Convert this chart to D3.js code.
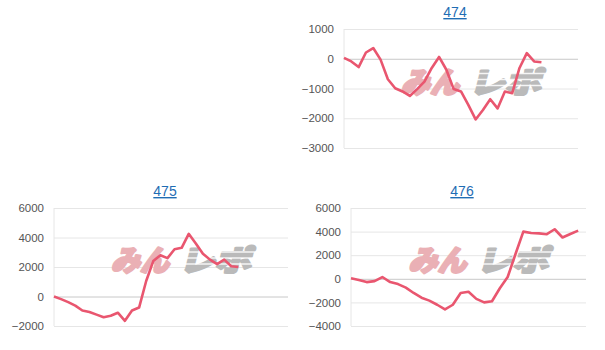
<!DOCTYPE html>
<html>
<head>
<meta charset="utf-8">
<script src="https://cdn.jsdelivr.net/npm/d3@7"></script>
<style>
  body { margin: 0; background: #fff; }
  svg { display: block; font-family: "Liberation Sans", Arial, Helvetica, sans-serif; }
</style>
</head>
<body>
<svg width="605" height="350"></svg>
<script>
// machine numbers (titles)
var titles = ["474", "475", "476"];

// cumulative difference per game count
var values474 = [30, -90, -280, 210, 360, -30, -690, -990, -1100, -1250, -1020, -770, -310, 60,
  -370, -1020, -1100, -1550, -2040, -1720, -1360, -1670, -1100, -1160, -310, 190, -90, -120];
var values475 = [0, -180, -380, -620, -950, -1050, -1230, -1400, -1300, -1100, -1650, -950, -750,
  1050, 2400, 2800, 2600, 3200, 3300, 4250, 3600, 2900, 2500, 2200, 2500, 2050, 2000];
var values476 = [50, -100, -280, -200, 150, -280, -450, -750, -1200, -1600, -1850, -2200, -2600,
  -2200, -1200, -1100, -1700, -2000, -1900, -800, 150, 2100, 4000, 3880, 3850, 3780, 4200,
  3500, 3800, 4080];

// y tick labels
var ticks474 = [1000, 0, -1000, -2000, -3000];
var ticks475 = [6000, 4000, 2000, 0, -2000];
var ticks476 = [6000, 4000, 2000, 0, -2000, -4000];

var svg = d3.select("svg");

function drawChart(title, values, ticks, box) {
  var g = svg.append("g");

  var x = d3.scaleLinear()
      .domain([0, box.slots])
      .range([box.left, box.right]);

  var y = d3.scaleLinear()
      .domain([d3.min(ticks), d3.max(ticks)])
      .range([box.bottom, box.top]);

  // title link
  g.append("text")
      .attr("x", box.titleX)
      .attr("y", box.top - 12)
      .attr("text-anchor", "middle")
      .attr("fill", "#1f6db4")
      .attr("text-decoration", "underline")
      .style("font-size", "14px")
      .text(title);

  // grid lines
  var yAxis = d3.axisLeft(y)
      .tickValues(ticks)
      .tickSize(-(box.right - box.left))
      .tickPadding(10)
      .tickFormat(d3.format("d"));

  var ax = g.append("g")
      .attr("transform", "translate(" + box.left + ",0)")
      .call(yAxis);

  ax.select(".domain").remove();
  ax.selectAll(".tick line")
      .attr("stroke", function(d) { return d == 0 ? "#c8c8c8" : "#e6e6e6"; })
      .attr("stroke-width", 1);
  ax.selectAll(".tick text")
      .attr("fill", "#555")
      .style("font-size", "11.5px")
      .style("font-family", "'Liberation Sans', Arial, sans-serif");

  // left axis line
  g.append("line")
      .attr("x1", box.left).attr("x2", box.left)
      .attr("y1", box.top).attr("y2", box.bottom)
      .attr("stroke", "#e6e6e6");

  // watermark
  var cx = (box.left + box.right) / 2 + 9,
      cy = (box.top + box.bottom) / 2 - 8;
  var wm = g.append("g")
      .attr("transform", "translate(" + cx + "," + cy + ") skewX(-14)")
      .style("font-family", "'Noto Sans CJK JP', sans-serif")
      .style("font-weight", 900)
      .style("font-size", "29px");
  wm.append("text")
      .attr("x", -66).attr("y", 12)
      .attr("textLength", 58)
      .attr("lengthAdjust", "spacingAndGlyphs")
      .attr("fill", "#eab0b5")
      .attr("stroke", "#eab0b5")
      .attr("stroke-width", 2.4)
      .attr("stroke-linejoin", "round")
      .text("みん");
  wm.append("text")
      .attr("x", 2).attr("y", 12)
      .attr("textLength", 72)
      .attr("lengthAdjust", "spacingAndGlyphs")
      .attr("fill", "#bababa")
      .attr("stroke", "#bababa")
      .attr("stroke-width", 2.4)
      .attr("stroke-linejoin", "round")
      .text("レポ");
  // speed lines across the grey part
  wm.selectAll("rect.speed")
      .data([-7, -1, 5])
    .enter().append("rect")
      .attr("class", "speed")
      .attr("x", 0).attr("width", 80)
      .attr("y", function(d) { return d - 0.7; })
      .attr("height", 1.4)
      .attr("fill", "#fff")
      .attr("opacity", 0.85);

  // data line
  var line = d3.line()
      .x(function(d, i) { return x(i); })
      .y(function(d) { return y(d); });

  g.append("path")
      .datum(values)
      .attr("fill", "none")
      .attr("stroke", "#e9566f")
      .attr("stroke-width", 2.6)
      .attr("stroke-linejoin", "round")
      .attr("d", line);
}

drawChart(titles[0], values474, ticks474, { left: 344, right: 578, top: 29, bottom: 148, slots: 32, titleX: 455 });
drawChart(titles[1], values475, ticks475, { left: 54, right: 288, top: 208, bottom: 326, slots: 33, titleX: 165 });
drawChart(titles[2], values476, ticks476, { left: 351, right: 586, top: 208, bottom: 326, slots: 30, titleX: 462 });
</script>
</body>
</html>
